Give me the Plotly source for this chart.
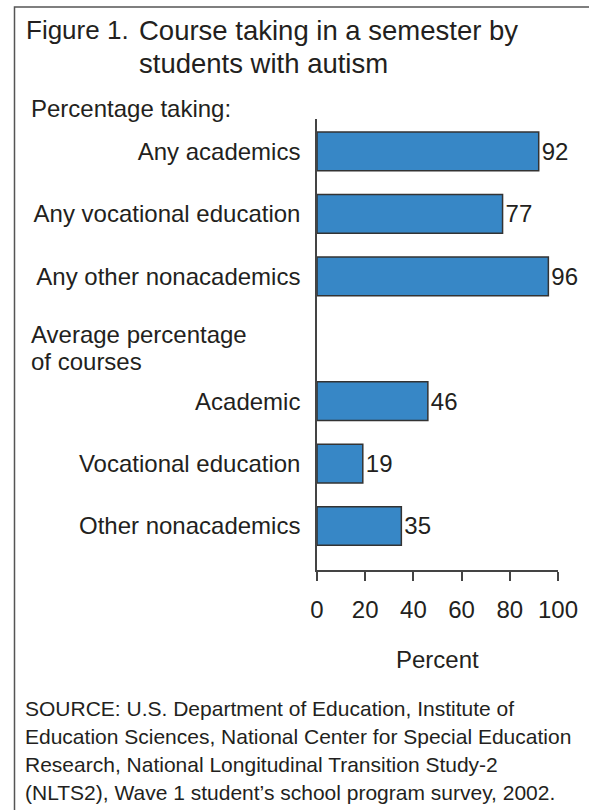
import plotly.graph_objects as go

# ---- data ----
group1_labels = ["Any academics", "Any vocational education", "Any other nonacademics"]
group1_values = [92, 77, 96]
group2_labels = ["Academic", "Vocational education", "Other nonacademics"]
group2_values = [46, 19, 35]
x_ticks = [0, 20, 40, 60, 80, 100]
title_prefix = "Figure 1."
title_text = ["Course taking in a semester by", "students with autism"]
group1_header = "Percentage taking:"
group2_header = ["Average percentage", "of courses"]
x_title = "Percent"
source_lines = [
    "SOURCE: U.S. Department of Education, Institute of",
    "Education Sciences, National Center for Special Education",
    "Research, National Longitudinal Transition Study-2",
    "(NLTS2), Wave 1 student\u2019s school program survey, 2002.",
]

spacer = " "
categories = group1_labels + [spacer] + group2_labels
values = group1_values + [None] + group2_values

# ---- layout geometry (pixels) ----
W, H = 589, 810
ML, MR, MT, MB = 317, 31, 119, 240
PW, PH = W - ML - MR, H - MT - MB

def px(x):
    return (x - ML) / PW

def py(y):
    return 1 - (y - MT) / PH

FONT = "Liberation Sans, Arial, Helvetica, sans-serif"
TXT = "#231f20"
AXC = "#444444"

fig = go.Figure()
fig.add_trace(go.Bar(
    x=values, y=categories, orientation="h",
    width=0.62,
    marker=dict(color="#3787C6", line=dict(color="#333333", width=1.5)),
    text=[("" if v is None else str(v)) for v in values],
    textposition="outside", constraintext="none",
    textfont=dict(size=24, color=TXT, family=FONT),
    cliponaxis=False, hoverinfo="skip",
))

fig.update_layout(
    width=W, height=H,
    margin=dict(l=ML, r=MR, t=MT, b=MB, pad=0),
    paper_bgcolor="white", plot_bgcolor="white",
    showlegend=False,
    font=dict(family=FONT, color=TXT, size=24),
    bargap=0.38,
)
fig.update_yaxes(
    type="category", categoryorder="array", categoryarray=categories,
    range=[6.705, -0.52],
    showline=True, linecolor=AXC, linewidth=1.5,
    ticks="", showgrid=False, zeroline=False,
    tickfont=dict(size=24, color=TXT, family=FONT),
    ticklabelstandoff=10,
)
fig.update_xaxes(
    range=[0, 100], tickvals=x_ticks, ticktext=[str(t) for t in x_ticks],
    showline=True, linecolor=AXC, linewidth=1.5,
    ticks="outside", ticklen=9, tickwidth=1.5, tickcolor=AXC,
    showgrid=False, zeroline=False,
    tickfont=dict(size=24, color=TXT, family=FONT),
    ticklabelstandoff=8,
)

ann = []
def add_text(text, x, y, size=24, xanchor="left"):
    ann.append(dict(text=text, x=px(x), y=py(y), xref="paper", yref="paper",
                    xanchor=xanchor, yanchor="middle", showarrow=False,
                    font=dict(size=size, color=TXT, family=FONT)))

add_text(title_prefix, 24, 30, size=26)
add_text(title_text[0], 137, 30, size=27.5)
add_text(title_text[1], 137, 64, size=27.5)
add_text(group1_header, 29, 109)
add_text(group2_header[0], 29, 334)
add_text(group2_header[1], 29, 361)
add_text(x_title, ML + PW / 2, 659, xanchor="center")
for i, line in enumerate(source_lines):
    add_text(line, 23, 708 + 28 * i, size=21)
fig.update_layout(annotations=ann)

# frame: left and top border lines
fig.add_shape(type="path", xref="paper", yref="paper",
              path=f"M {px(14.5)} {py(812)} L {px(14.5)} {py(7)} L {px(592)} {py(7)}",
              line=dict(color="#555555", width=1.5))

fig.write_html(
    "out.html",
    config={"displayModeBar": False},
    post_script="document.body.style.margin='0';document.body.style.overflow='hidden';",
)
